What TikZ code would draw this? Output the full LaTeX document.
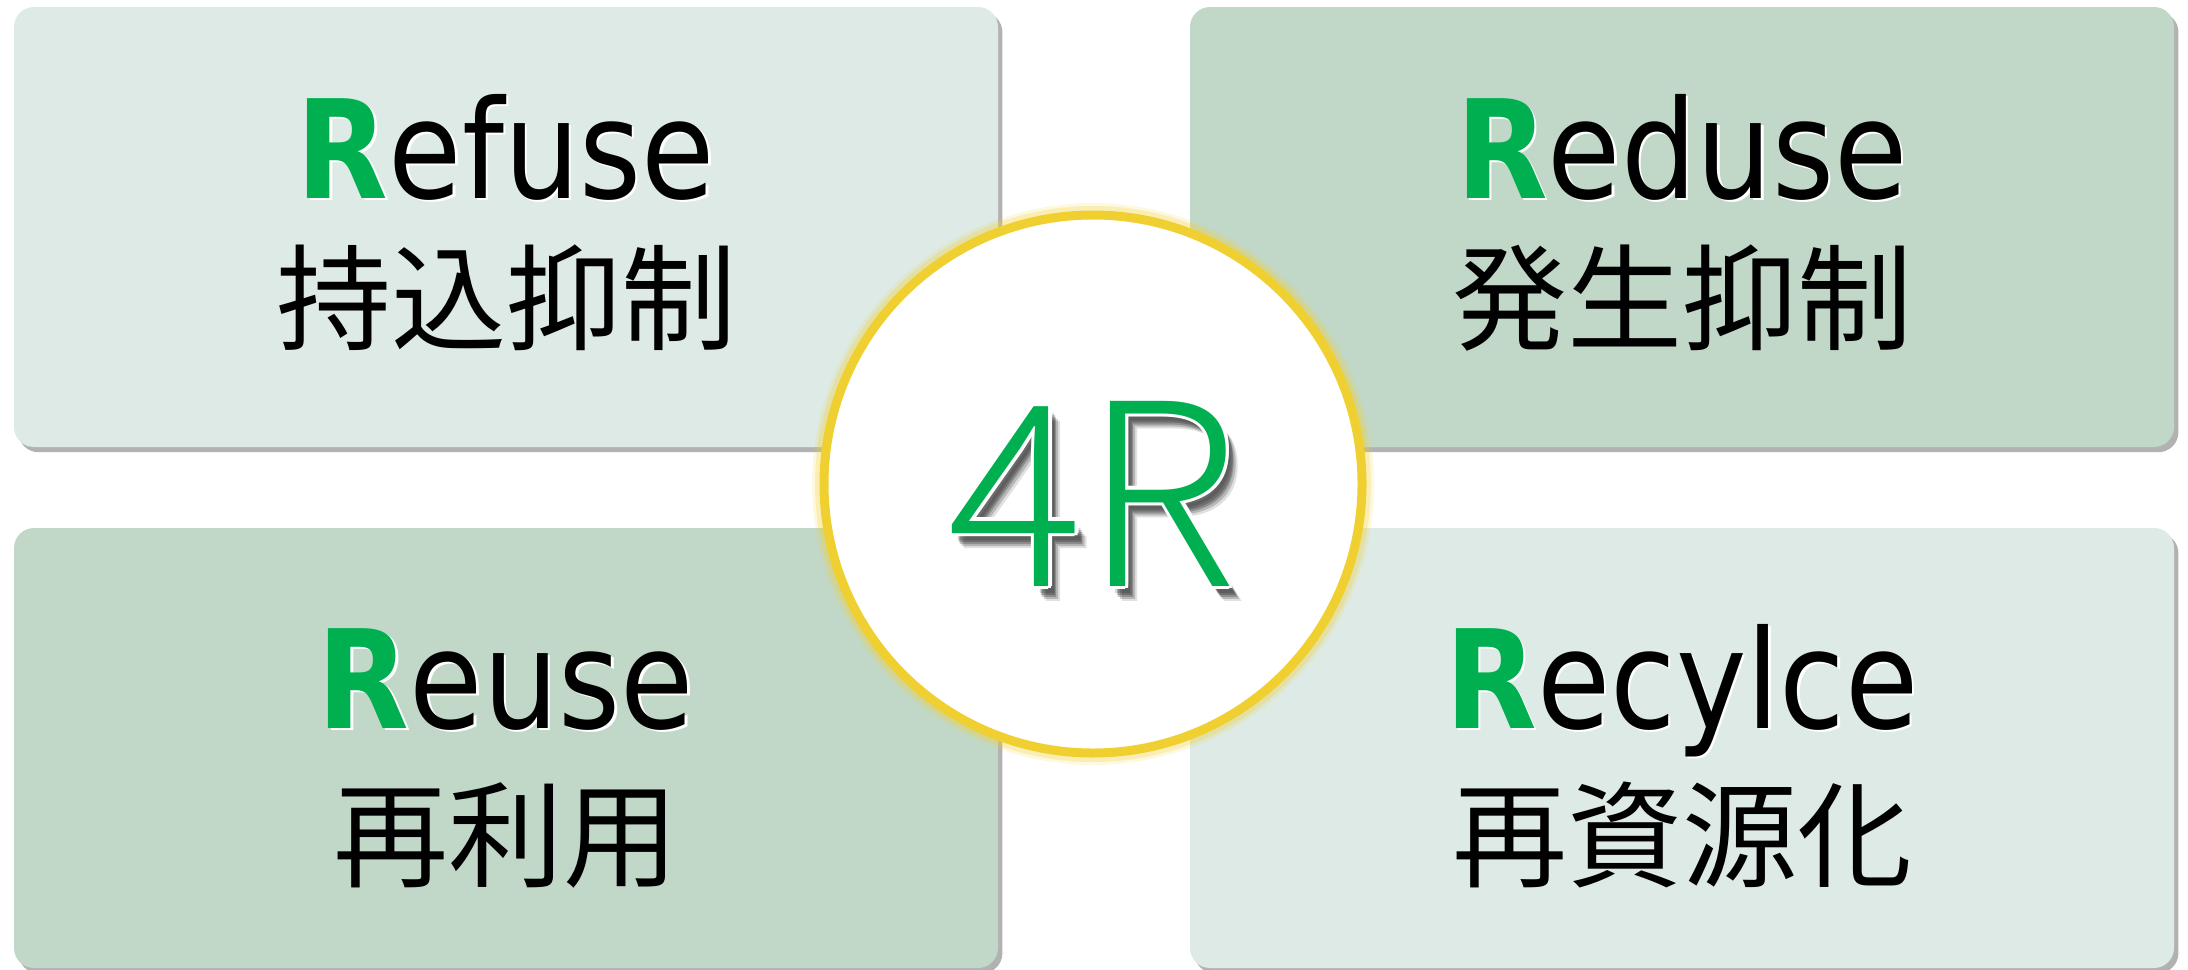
\documentclass[tikz,border=0pt]{standalone}
\usepackage{fontspec}
\usetikzlibrary{shadows}
\newfontfamily\latinf[FakeStretch=0.87]{DejaVu Sans}
\newfontfamily\jpf{Noto Sans CJK JP}
\newfontfamily\bigfont{Noto Sans CJK JP Light}
\definecolor{rgreen}{HTML}{00B050}
\definecolor{boxlight}{HTML}{DEEAE5}
\definecolor{boxdark}{HTML}{C1D8C8}
\definecolor{ring}{HTML}{F0D030}
\tikzset{
  qbox/.style={rectangle, rounded corners=10pt, minimum width=492pt, minimum height=220pt, inner sep=0pt,
    drop shadow={shadow xshift=2.2pt, shadow yshift=-2.6pt, fill=black, opacity=0.3}},
  titlef/.style={font=\latinf\fontsize{68.5}{80}\selectfont, inner sep=0pt},
  jpfont/.style={font=\jpf\fontsize{57.5}{66}\selectfont, inner sep=0pt},
  bigf/.style={font=\bigfont\fontsize{127}{140}\selectfont, inner sep=0pt}
}
\newcommand\titlenode[4]{%
  \node[titlef, text=white, anchor=base, xshift=1.2pt, yshift=-1.2pt] at (#2,#3) {\textbf{R}#4};
  \node[titlef, anchor=base] (#1) at (#2,#3) {\textcolor{rgreen}{\textbf{R}}#4};
}
\newcommand\jpnode[4]{%
  \node[jpfont, anchor=base] (#1) at (#2,#3) {#4};
}
\begin{document}
\begin{tikzpicture}[x=0.5pt,y=-0.5pt]
\useasboundingbox (0,0) rectangle (2188,969);
% boxes
\node[qbox, fill=boxlight] (refuse) at (506,227) {};
\node[qbox, fill=boxdark] (reduse) at (1682,227) {};
\node[qbox, fill=boxdark] (reuse) at (506,748) {};
\node[qbox, fill=boxlight] (recycle) at (1682,748) {};
% texts
\titlenode{t1}{506}{198}{efuse}
\jpnode{j1}{506}{341}{持込抑制}
\titlenode{t2}{1682}{198}{eduse}
\jpnode{j2}{1682}{341}{発生抑制}
\titlenode{t3}{506}{728}{euse}
\jpnode{j3}{506}{878}{再利用}
\titlenode{t4}{1682}{728}{ecylce}
\jpnode{j4}{1682}{878}{再資源化}
% centre circle with glow
\fill[ring, opacity=0.15] (1093,484) circle (281);
\fill[ring, opacity=0.25] (1093,484) circle (278);
\node[circle, minimum size=269pt, inner sep=0pt, fill=white, draw=ring, line width=4.5pt] (core) at (1093,484) {};
% 4R with soft shadow and white outline
\foreach \dx/\dy/\op in {6/-7.5/0.12, 5/-6.5/0.18, 4/-5.5/0.22, 3.2/-4.5/0.22, 2.6/-3.6/0.15}{
  \node[bigf, text=black, opacity=\op, anchor=base, xshift=\dx pt, yshift=\dy pt] at (1093,586) {4R};
}
\foreach \dx/\dy in {1.6/0,-1.6/0,0/1.6,0/-1.6,1.2/1.2,-1.2/1.2,1.2/-1.2,-1.2/-1.2}{
  \node[bigf, text=white, anchor=base, xshift=\dx pt, yshift=\dy pt] at (1093,586) {4R};
}
\node[bigf, text=rgreen, anchor=base] (big) at (1093,586) {4R};
\end{tikzpicture}
\end{document}
